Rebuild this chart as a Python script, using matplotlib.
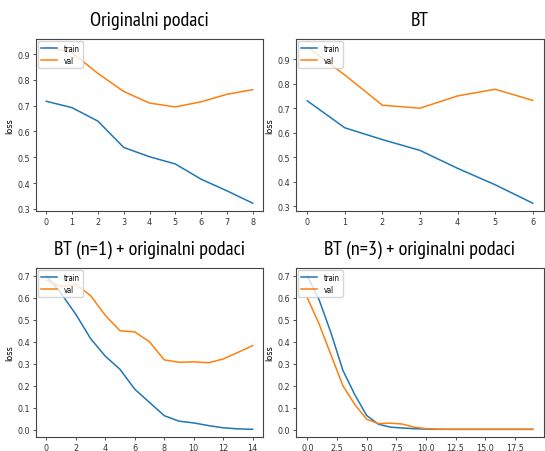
import matplotlib
matplotlib.use("Agg")
import matplotlib.pyplot as plt
from matplotlib.ticker import MultipleLocator

titles = ["Originalni podaci", "BT", "BT (n=1) + originalni podaci", "BT (n=3) + originalni podaci"]

train1 = [0.717, 0.692, 0.640, 0.538, 0.502, 0.474, 0.415, 0.370, 0.322]
val1 = [0.928, 0.905, 0.825, 0.755, 0.710, 0.695, 0.715, 0.744, 0.762]

train2 = [0.730, 0.620, 0.572, 0.528, 0.455, 0.388, 0.313]
val2 = [0.950, 0.835, 0.712, 0.700, 0.750, 0.777, 0.732]

train3 = [0.700, 0.620, 0.525, 0.415, 0.335, 0.275, 0.185, 0.125, 0.065, 0.040,
          0.032, 0.020, 0.010, 0.005, 0.003]
val3 = [0.680, 0.650, 0.660, 0.610, 0.520, 0.450, 0.445, 0.400, 0.318, 0.307,
        0.309, 0.305, 0.322, 0.352, 0.383]

train4 = [0.700, 0.590, 0.440, 0.270, 0.160, 0.065, 0.025, 0.012, 0.008, 0.005,
          0.003, 0.002, 0.002, 0.002, 0.002, 0.002, 0.002, 0.002, 0.002, 0.002]
val4 = [0.600, 0.480, 0.340, 0.200, 0.115, 0.048, 0.028, 0.030, 0.026, 0.012,
        0.005, 0.003, 0.002, 0.002, 0.002, 0.002, 0.002, 0.002, 0.002, 0.002]

series = [(train1, val1), (train2, val2), (train3, val3), (train4, val4)]
x_steps = [1, 1, 2, 2.5]

plt.rcParams["font.family"] = ["DejaVu Sans"]
plt.rcParams["font.stretch"] = "condensed"

W, H = 545, 452
fig = plt.figure(figsize=(W / 100, H / 100), dpi=100)

# axes boxes in pixels: left, top, right, bottom
boxes = [(36, 40, 263, 212), (296, 40, 544, 212),
         (36, 269, 263, 438), (296, 269, 544, 438)]

for i, ((l, t, r, b), (tr, va)) in enumerate(zip(boxes, series)):
    ax = fig.add_axes([l / W, 1 - b / H, (r - l) / W, (b - t) / H])
    x = list(range(len(tr)))
    ax.plot(x, tr, color="#1f77b4", lw=1.1, label="train")
    ax.plot(x, va, color="#ff7f0e", lw=1.1, label="val")
    ax.xaxis.set_major_locator(MultipleLocator(x_steps[i]))
    ax.tick_params(labelsize=6.5, length=2.5, width=0.6, pad=2, colors="#333333")
    for s in ax.spines.values():
        s.set_linewidth(0.8)
        s.set_color("#444444")
    ax.set_ylabel("loss", fontsize=6.5, labelpad=2)
    ax.legend(loc="upper left", fontsize=5.5, handlelength=2.2, borderpad=0.4,
              labelspacing=0.4, borderaxespad=0.2, framealpha=0.8)
    ax.set_title(titles[i], fontsize=14.5, family=["PT Sans Narrow", "PT Sans", "DejaVu Sans"],
                 fontstretch="condensed", pad=10)

fig.savefig("out.png", dpi=100)
